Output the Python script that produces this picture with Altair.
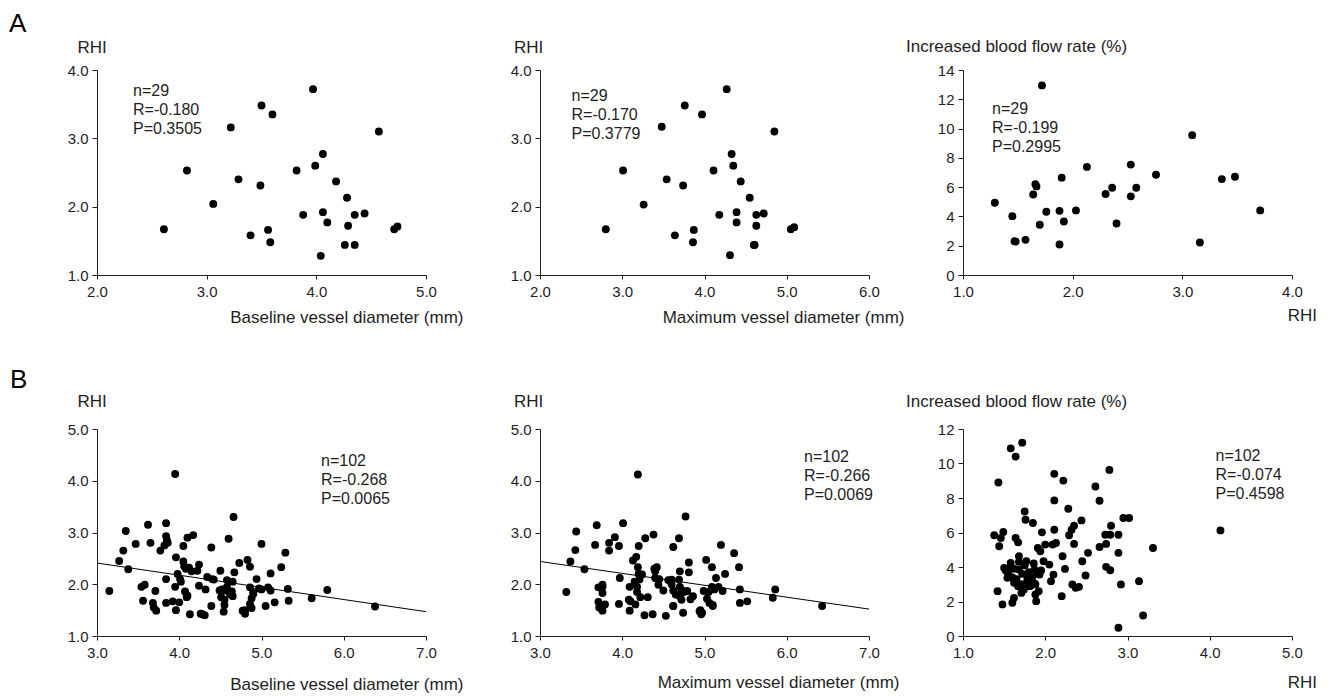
import altair as alt
import pandas as pd

FONT = "Liberation Sans"
INK = "#1e1e1e"

# ---------------- Panel A (n=29) ----------------
a1_base_diam = [2.61, 2.82, 3.06, 3.22, 3.29, 3.40, 3.50, 3.49, 3.56, 3.58, 3.60, 3.82, 3.88, 3.97, 3.99,
                4.04, 4.06, 4.06, 4.10, 4.18, 4.28, 4.29, 4.26, 4.35, 4.35, 4.44, 4.57, 4.71, 4.74]
a1_rhi = [1.67, 2.53, 2.04, 3.16, 2.40, 1.58, 3.48, 2.31, 1.66, 1.48, 3.35, 2.53, 1.88, 3.72, 2.60,
          1.28, 2.77, 1.92, 1.77, 2.37, 2.13, 1.72, 1.44, 1.88, 1.44, 1.90, 3.10, 1.67, 1.71]

a2_max_diam = [2.80, 3.01, 3.26, 3.48, 3.54, 3.64, 3.76, 3.74, 3.87, 3.86, 3.97, 4.11, 4.18, 4.27, 4.35,
               4.31, 4.33, 4.39, 4.39, 4.44, 4.55, 4.63, 4.61, 4.63, 4.72, 4.85, 5.05, 5.09, 4.60]
a2_rhi = [1.67, 2.53, 2.03, 3.17, 2.40, 1.58, 3.48, 2.31, 1.66, 1.48, 3.35, 2.53, 1.88, 3.72, 2.60,
          1.29, 2.77, 1.92, 1.77, 2.37, 2.13, 1.72, 1.44, 1.88, 1.90, 3.10, 1.67, 1.70, 1.44]

a3_rhi = [1.29, 1.45, 1.47, 1.57, 1.64, 1.66, 1.70, 1.72, 1.76, 1.88, 1.88, 1.90, 1.92, 2.03, 2.13,
          2.30, 2.36, 2.40, 2.53, 2.53, 2.58, 2.76, 3.09, 3.16, 3.36, 3.48, 3.71, 1.67, 1.48]
a3_flow = [4.93, 4.02, 2.31, 2.40, 5.50, 6.21, 3.43, 12.95, 4.32, 4.38, 2.08, 6.65, 3.65, 4.41, 7.38,
           5.53, 5.96, 3.52, 7.54, 5.37, 5.96, 6.85, 9.55, 2.22, 6.55, 6.71, 4.41, 6.05, 2.28]

# ---------------- Panel B (n=102) ----------------
b1_base_diam = [3.15, 3.27, 3.32, 3.35, 3.38, 3.47, 3.54, 3.58, 3.56, 3.62,
                3.65, 3.68, 3.69, 3.72, 3.71, 3.77, 3.84, 3.84, 3.84, 3.84,
                3.86, 3.82, 3.95, 3.96, 3.95, 3.96, 3.92, 4.00, 4.01, 4.05,
                4.05, 4.07, 4.09, 4.10, 4.08, 4.12, 4.13, 4.17, 4.22, 4.24,
                4.24, 4.26, 4.31, 4.32, 4.34, 4.39, 4.39, 4.42, 4.50, 4.49,
                4.51, 4.54, 4.55, 4.58, 4.56, 4.60, 4.62, 4.64, 4.65, 4.66,
                4.67, 4.73, 4.77, 4.80, 4.83, 4.86, 4.86, 4.88, 4.88, 4.90,
                4.94, 5.00, 4.97, 5.05, 5.08, 5.11, 5.11, 5.16, 5.24, 5.29,
                5.32, 5.33, 5.61, 5.80, 6.38,
                3.98, 4.02, 4.06, 4.10, 4.15, 4.28, 4.40, 4.52, 4.55, 4.58,
                4.62, 4.65, 4.80, 4.86, 4.90, 5.00, 3.85]
b1_rhi = [1.87, 2.45, 2.65, 3.03, 2.29, 2.78, 1.95, 1.99, 1.68, 3.15,
          2.80, 1.64, 1.55, 1.49, 1.87, 2.65, 2.10, 1.64, 3.18, 2.93,
          2.80, 2.75, 4.13, 2.52, 1.95, 1.50, 1.67, 1.65, 2.10, 2.74,
          2.44, 1.86, 1.75, 2.90, 2.30, 2.32, 1.42, 2.95, 2.26, 2.38,
          1.97, 1.43, 1.40, 1.90, 2.14, 1.58, 2.71, 2.09, 2.26, 1.88,
          1.75, 1.47, 1.60, 2.08, 1.88, 2.88, 1.81, 1.86, 1.77, 3.30,
          2.23, 2.41, 1.49, 1.43, 2.47, 2.34, 1.94, 1.73, 1.54, 1.81,
          2.10, 2.78, 1.92, 1.58, 1.94, 1.88, 2.21, 1.65, 2.33, 2.61,
          1.91, 1.68, 1.73, 1.89, 1.57,
          2.20, 2.05, 2.35, 1.78, 2.25, 1.42, 2.10, 1.90, 1.70, 1.95,
          1.80, 2.05, 1.50, 1.62, 1.85, 1.90, 2.85]
b1_fit_x = [3.0, 7.0]
b1_fit_y = [2.41, 1.47]

b2_max_diam = [3.32, 3.37, 3.43, 3.44, 3.54, 3.67, 3.69, 3.71, 3.71, 3.76,
               3.76, 3.76, 3.79, 3.84, 3.84, 3.91, 3.96, 3.97, 3.96, 4.01,
               4.09, 4.09, 4.10, 4.13, 4.17, 4.19, 4.20, 4.19, 4.21, 4.18,
               4.16, 4.24, 4.28, 4.27, 4.31, 4.37, 4.38, 4.39, 4.42, 4.44,
               4.40, 4.50, 4.53, 4.56, 4.60, 4.62, 4.62, 4.62, 4.69, 4.70,
               4.69, 4.70, 4.72, 4.74, 4.77, 4.79, 4.81, 4.81, 4.83, 4.86,
               4.94, 4.96, 4.99, 5.02, 5.03, 5.06, 5.09, 5.10, 5.09, 5.14,
               5.17, 5.20, 5.22, 5.25, 5.36, 5.42, 5.43, 5.43, 5.52, 5.83,
               5.86, 6.43,
               4.15, 4.18, 4.20, 4.22, 4.40, 4.45, 4.60, 4.65, 4.70, 4.72,
               4.75, 4.95, 4.97, 5.05, 5.10, 5.12, 3.72, 3.76, 4.08, 4.62]
b2_rhi = [1.85, 2.44, 2.66, 3.02, 2.29, 2.76, 3.14, 1.94, 1.66, 1.99,
          1.83, 1.49, 1.61, 2.65, 2.80, 2.91, 2.74, 2.12, 1.62, 3.18,
          1.95, 1.49, 1.67, 2.46, 2.53, 4.12, 2.74, 2.33, 2.09, 1.85,
          1.61, 2.19, 2.89, 1.40, 1.75, 1.42, 2.96, 2.30, 2.33, 1.99,
          2.12, 1.88, 1.39, 2.08, 2.09, 2.72, 1.88, 1.58, 2.89, 2.25,
          2.09, 1.77, 1.89, 1.45, 3.31, 1.87, 2.23, 2.42, 1.71, 1.77,
          1.48, 1.42, 1.87, 2.47, 1.72, 1.64, 2.33, 1.58, 1.95, 2.12,
          1.95, 2.76, 1.87, 2.20, 2.60, 2.33, 1.90, 1.64, 1.67, 1.74,
          1.90, 1.58,
          2.05, 1.95, 2.20, 1.75, 2.25, 2.10, 2.00, 1.80, 1.95, 1.70,
          1.85, 1.50, 1.45, 1.85, 1.60, 1.90, 1.55, 1.95, 1.70, 1.58]
b2_fit_x = [3.0, 7.0]
b2_fit_y = [2.44, 1.52]

b3_rhi = [1.42, 1.38, 1.43, 1.44, 1.46, 1.49, 1.48, 1.50, 1.54, 1.58,
          1.60, 1.62, 1.64, 1.64, 1.67, 1.58, 1.62, 1.67, 1.68, 1.71,
          1.68, 1.72, 1.75, 1.76, 1.77, 1.79, 1.79, 1.85, 1.87, 1.86,
          1.88, 1.89, 1.91, 1.93, 1.94, 1.96, 1.98, 2.00, 2.05, 2.07,
          2.10, 2.11, 2.11, 2.11, 2.13, 2.09, 2.21, 2.22, 2.20, 2.24,
          2.28, 2.29, 2.32, 2.35, 2.35, 2.33, 2.37, 2.41, 2.44, 2.45,
          2.49, 2.52, 2.61, 2.66, 2.66, 2.73, 2.74, 2.74, 2.79, 2.78,
          2.79, 2.80, 2.89, 2.89, 2.89, 2.92, 2.95, 3.02, 3.14, 3.19,
          3.31, 4.13,
          1.52, 1.55, 1.58, 1.60, 1.62, 1.65, 1.68, 1.70, 1.72, 1.75,
          1.78, 1.80, 1.82, 1.84, 1.88, 1.90, 1.92, 1.95, 1.74, 1.86]
b3_flow = [2.60, 5.84, 8.90, 5.20, 5.68, 6.03, 1.83, 3.95, 3.37, 10.88,
           1.93, 2.21, 10.40, 5.68, 5.43, 4.24, 3.08, 2.89, 4.62, 2.50,
           3.85, 11.21, 7.22, 6.74, 4.33, 3.47, 2.89, 6.55, 3.85, 3.08,
           2.41, 2.02, 5.10, 3.56, 4.91, 6.01, 4.33, 5.30, 4.14, 3.18,
           3.56, 9.40, 6.16, 7.86, 5.39, 5.30, 4.62, 9.01, 2.31, 3.89,
           7.38, 5.84, 6.16, 6.39, 5.34, 2.99, 2.79, 2.85, 6.70, 4.33,
           3.51, 4.82, 8.67, 7.84, 5.16, 5.87, 5.34, 4.01, 3.81, 9.63,
           5.87, 6.39, 5.87, 4.82, 0.48, 2.99, 6.84, 6.84, 3.18, 1.19,
           5.10, 6.12,
           3.80, 3.60, 4.00, 3.40, 3.90, 3.30, 4.30, 3.00, 3.60, 4.10,
           3.20, 3.70, 2.90, 3.40, 3.00, 3.60, 2.60, 3.80, 2.70, 4.20]

# annotation texts
a1_stats = ["n=29", "R=-0.180", "P=0.3505"]
a2_stats = ["n=29", "R=-0.170", "P=0.3779"]
a3_stats = ["n=29", "R=-0.199", "P=0.2995"]
b1_stats = ["n=102", "R=-0.268", "P=0.0065"]
b2_stats = ["n=102", "R=-0.266", "P=0.0069"]
b3_stats = ["n=102", "R=-0.074", "P=0.4598"]

diam_ticks_a1 = [2.0, 3.0, 4.0, 5.0]
diam_ticks_a2 = [2.0, 3.0, 4.0, 5.0, 6.0]
diam_ticks_b = [3.0, 4.0, 5.0, 6.0, 7.0]
rhi_ticks_a = [1.0, 2.0, 3.0, 4.0]
rhi_ticks_b = [1.0, 2.0, 3.0, 4.0, 5.0]
flow_ticks_a = [0, 2, 4, 6, 8, 10, 12, 14]
flow_ticks_b = [0, 2, 4, 6, 8, 10, 12]

W = 329          # plot (axis) length
EXTRA1 = 19.5    # extra room right of the first column


def panel(xs, ys, xticks, yticks, xfmt, yfmt, h, xtitle, ytitle, ytx, yty, xtdx, xty,
          stats, sx, sy, fit=None, letter=None, extra=0):
    df = pd.DataFrame({"x": xs, "y": ys})
    xdom = [xticks[0], xticks[-1]]
    ydom = [yticks[0], yticks[-1]]
    xsc = alt.Scale(domain=xdom, nice=False, zero=False, range=[0, W])
    ysc = alt.Scale(domain=ydom, nice=False, zero=False)
    xaxis = alt.Axis(values=xticks, format=xfmt, title=xtitle, titleAngle=0,
                     titleX=W + xtdx, titleY=xty, titleAlign="right", titleBaseline="middle",
                     labelFlush=False, labelOverlap=False, tickSize=4, labelPadding=5)
    yaxis = alt.Axis(values=yticks, format=yfmt, title=ytitle, titleAngle=0,
                     titleX=ytx, titleY=yty, titleAlign="left", titleBaseline="middle",
                     labelOverlap=False, tickSize=5, labelPadding=4)
    pts = alt.Chart(df).mark_circle(size=62, color="black", opacity=1).encode(
        x=alt.X("x:Q", scale=xsc, axis=xaxis),
        y=alt.Y("y:Q", scale=ysc, axis=yaxis),
    )
    layers = [pts]
    if fit is not None:
        fdf = pd.DataFrame({"x": fit[0], "y": fit[1]})
        layers.append(alt.Chart(fdf).mark_line(color="black", strokeWidth=1).encode(
            x=alt.X("x:Q", scale=xsc), y=alt.Y("y:Q", scale=ysc)))
    layers.append(alt.Chart(pd.DataFrame({"t": [0]})).mark_text(
        align="left", baseline="alphabetic", font=FONT, fontSize=16, lineHeight=19, color=INK
    ).encode(x=alt.value(sx), y=alt.value(sy), text=alt.value(stats)))
    if letter is not None:
        layers.append(alt.Chart(pd.DataFrame({"t": [0]})).mark_text(
            align="left", baseline="alphabetic", font=FONT, fontSize=26, color="black"
        ).encode(x=alt.value(letter[1]), y=alt.value(letter[2]), text=alt.value(letter[0])))
    return alt.layer(*layers).properties(width=W + extra, height=h)


A1 = panel(a1_base_diam, a1_rhi, diam_ticks_a1, rhi_ticks_a, ".1f", ".1f", 205,
           "Baseline vessel diameter (mm)", "RHI", -20, -23, 37, 42,
           a1_stats, 36, 25.7, letter=("A", -88, -38), extra=EXTRA1)
A2 = panel(a2_max_diam, a2_rhi, diam_ticks_a2, rhi_ticks_a, ".1f", ".1f", 205,
           "Maximum vessel diameter (mm)", "RHI", -26.5, -23, 35, 42,
           a2_stats, 31.5, 30.7)
A3 = panel(a3_rhi, a3_flow, rhi_ticks_a, flow_ticks_a, ".1f", "d", 205,
           "RHI", "Increased blood flow rate (%)", -57.5, -24, 24.5, 40,
           a3_stats, 29, 43.7)
B1 = panel(b1_base_diam, b1_rhi, diam_ticks_b, rhi_ticks_b, ".1f", ".1f", 207,
           "Baseline vessel diameter (mm)", "RHI", -20, -27.5, 37, 48,
           b1_stats, 224, 36.7, fit=(b1_fit_x, b1_fit_y), letter=("B", -87, -41), extra=EXTRA1)
B2 = panel(b2_max_diam, b2_rhi, diam_ticks_b, rhi_ticks_b, ".1f", ".1f", 207,
           "Maximum vessel diameter (mm)", "RHI", -26.5, -27.5, 30, 46,
           b2_stats, 264, 33.4, fit=(b2_fit_x, b2_fit_y))
B3 = panel(b3_rhi, b3_flow, rhi_ticks_b, flow_ticks_b, ".1f", "d", 207,
           "RHI", "Increased blood flow rate (%)", -57.5, -27.5, 24.5, 46,
           b3_stats, 252.5, 32.4)

chart = alt.concat(A1, A2, A3, B1, B2, B3, columns=3,
                   spacing={"row": 154, "column": 94}, bounds="flush").configure(
    padding={"left": 0, "top": 2, "right": 0, "bottom": 0},
    font=FONT,
    background="white",
).configure_axis(
    domainColor=INK, tickColor=INK, labelColor=INK, titleColor=INK,
    labelFont=FONT, titleFont=FONT, labelFontSize=15, titleFontSize=17,
    titleFontWeight="normal", grid=False, domainWidth=1, tickWidth=1,
).configure_view(stroke="transparent")

chart.save("out.html", embed_options={"renderer": "svg", "actions": False})
